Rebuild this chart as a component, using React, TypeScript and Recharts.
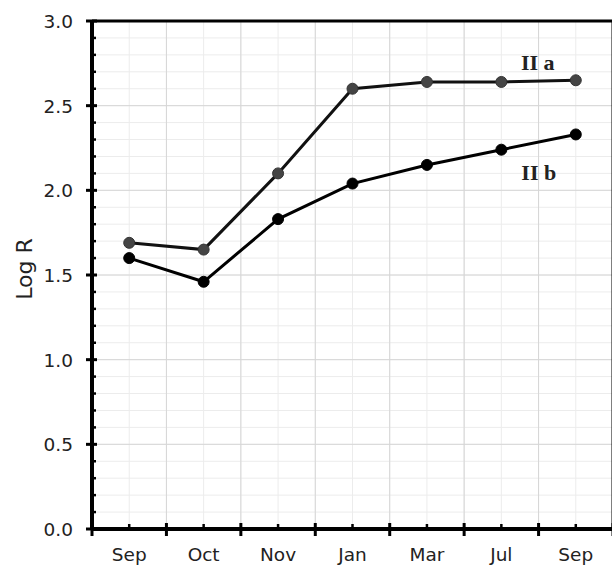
import { CartesianGrid, Line, LineChart, ReferenceLine, XAxis, YAxis } from "recharts";

const months = ["Sep", "Oct", "Nov", "Jan", "Mar", "Jul", "Sep"];
const seriesA = [1.69, 1.65, 2.1, 2.6, 2.64, 2.64, 2.65];
const seriesB = [1.6, 1.46, 1.83, 2.04, 2.15, 2.24, 2.33];
const xTicks = [-0.5, 0, 0.5, 1, 1.5, 2, 2.5, 3, 3.5, 4, 4.5, 5, 5.5, 6, 6.5];
const xMajor = [0.5, 1.5, 2.5, 3.5, 4.5, 5.5];
const yTicks = [
  0, 0.1, 0.2, 0.3, 0.4, 0.5, 0.6, 0.7, 0.8, 0.9, 1, 1.1, 1.2, 1.3, 1.4, 1.5,
  1.6, 1.7, 1.8, 1.9, 2, 2.1, 2.2, 2.3, 2.4, 2.5, 2.6, 2.7, 2.8, 2.9, 3
];
const yMajor = [0.5, 1, 1.5, 2, 2.5];

const data = months.map((m, i) => ({ idx: i, month: m, a: seriesA[i], b: seriesB[i] }));

const FONT = "'DejaVu Sans', sans-serif";

function XTick(props: any) {
  const { x, y, payload } = props;
  const v = payload.value as number;
  if (Number.isInteger(v)) {
    return (
      <g>
        <line x1={x} x2={x} y1={y} y2={y - 5} stroke="#000" strokeWidth={2.5} />
        <text x={x} y={y + 32} textAnchor="middle" fontSize={18.5} fontFamily={FONT} fill="#222">
          {months[v]}
        </text>
      </g>
    );
  }
  return <line x1={x} x2={x} y1={y - 6} y2={y + 7} stroke="#000" strokeWidth={3} />;
}

function YTick(props: any) {
  const { x, y, payload } = props;
  const v = payload.value as number;
  const major = Math.abs(v * 2 - Math.round(v * 2)) < 1e-6;
  if (major) {
    return (
      <g>
        <line x1={x - 6} x2={x + 5} y1={y} y2={y} stroke="#000" strokeWidth={3} />
        <text x={x - 19} y={y + 7} textAnchor="end" fontSize={18.5} fontFamily={FONT} fill="#222">
          {v.toFixed(1)}
        </text>
      </g>
    );
  }
  return <line x1={x} x2={x + 4} y1={y} y2={y} stroke="#000" strokeWidth={2.5} />;
}

function YLabel(props: any) {
  const vb = props.viewBox;
  const cy = vb.y + vb.height / 2 - 6;
  return (
    <text
      x={32}
      y={cy}
      transform={`rotate(-90, 32, ${cy})`}
      textAnchor="middle"
      fontSize={22}
      fontFamily={FONT}
      fill="#222"
    >
      Log R
    </text>
  );
}

function endLabel(text: string, dx: number, dy: number) {
  return (props: any) => {
    if (props.index !== months.length - 1) return null;
    return (
      <text
        key={text}
        x={props.x + dx}
        y={props.y + dy}
        textAnchor="middle"
        fontSize={22}
        fontWeight="bold"
        fontFamily="'Liberation Serif', serif"
        fill="#222"
      >
        {text}
      </text>
    );
  };
}

export default function App() {
  return (
    <div style={{ position: "absolute", left: 0, top: 0, width: 612, height: 566, overflow: "hidden", background: "#fff" }}>
      <LineChart width={614} height={566} data={data} margin={{ top: 21, right: 1, bottom: 0, left: 0 }}>
        <CartesianGrid stroke="#ececec" strokeWidth={1} />
        {yMajor.map((v) => (
          <ReferenceLine key={"y" + v} y={v} stroke="#d6d6d6" strokeWidth={1} />
        ))}
        {xMajor.map((v) => (
          <ReferenceLine key={"x" + v} x={v} stroke="#d6d6d6" strokeWidth={1} />
        ))}
        <ReferenceLine y={3} stroke="#000" strokeWidth={3} />
        <ReferenceLine x={6.5} stroke="#000" strokeWidth={3} />
        <XAxis
          dataKey="idx"
          type="number"
          domain={[-0.5, 6.5]}
          ticks={xTicks}
          interval={0}
          height={37}
          tickSize={0}
          tickMargin={0}
          tickLine={false}
          tick={<XTick />}
          axisLine={{ stroke: "#000", strokeWidth: 4 }}
        />
        <YAxis
          type="number"
          domain={[0, 3]}
          ticks={yTicks}
          interval={0}
          width={92}
          tickSize={0}
          tickMargin={0}
          tickLine={false}
          tick={<YTick />}
          axisLine={{ stroke: "#000", strokeWidth: 4 }}
          label={<YLabel />}
        />
        <Line
          dataKey="a"
          stroke="#111"
          strokeWidth={3}
          dot={{ r: 5.5, fill: "#444", stroke: "#333", strokeWidth: 1 }}
          label={endLabel("II a", -38, -10)}
          isAnimationActive={false}
        />
        <Line
          dataKey="b"
          stroke="#000"
          strokeWidth={3}
          dot={{ r: 5.5, fill: "#000", stroke: "#000", strokeWidth: 1 }}
          label={endLabel("II b", -37, 46)}
          isAnimationActive={false}
        />
      </LineChart>
    </div>
  );
}
